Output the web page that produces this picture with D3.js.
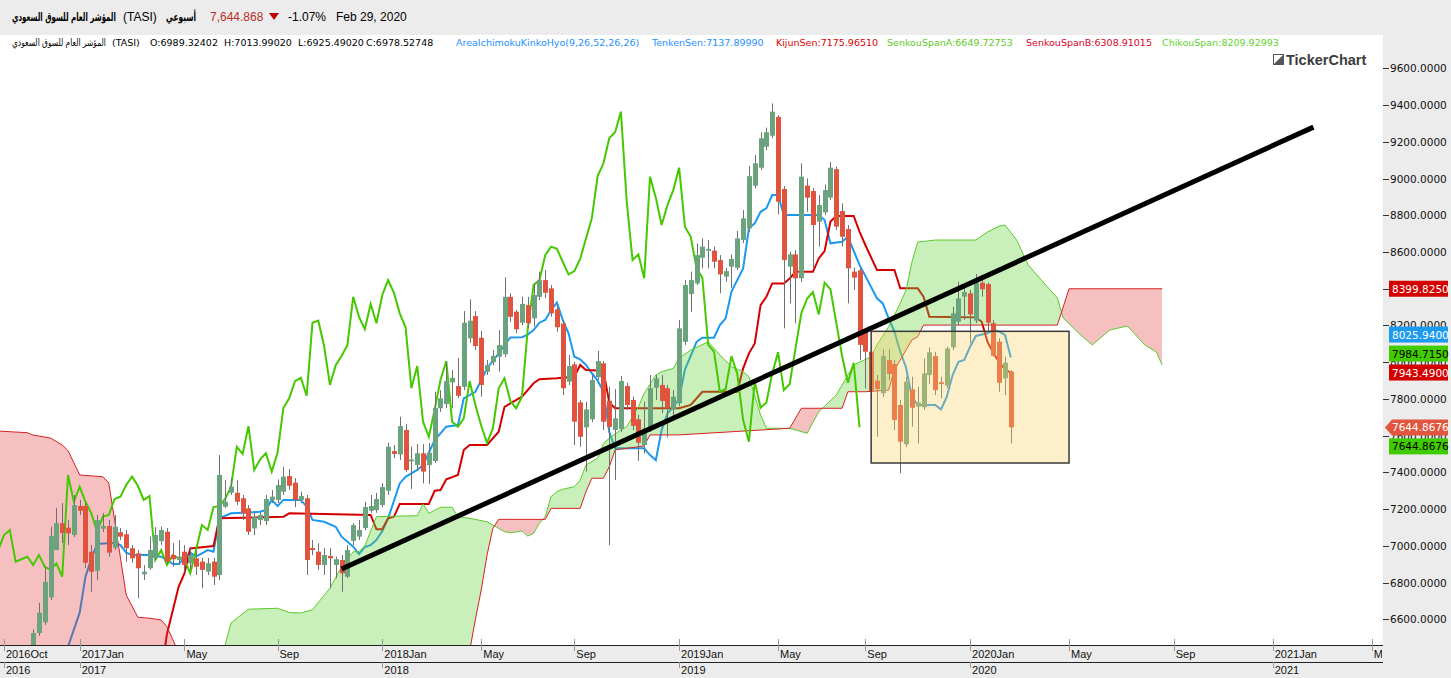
<!DOCTYPE html>
<html><head><meta charset="utf-8">
<script src="https://cdn.jsdelivr.net/npm/d3@7"></script>
<style>body{margin:0;background:#fff;} svg{display:block}</style>
</head><body><svg id="c" width="1451" height="678"></svg>
<script>
// ---------------- DATA ----------------
const opens=[5900,5750,5600,5850,6050,6300,6525,6583,6720,6977,7123,7099,7059,7217,7217,6968,6864,7093,7108,6990,7074,7063,6987,6959,6845,6878,6934,7026,7077,6950,6923,6968,6905,6932,6914,6859,6914,6841,7213,7289,7289,7259,7204,7095,7141,7135,7250,7250,7295,7380,7344,7250,7259,6988,6968,6896,6945,6896,6923,6832,7027,7050,7097,7191,7195,7222,7300,7516,7498,7631,7460,7440,7504,7440,7462,7749,7772,7890,7870,7866,8130,8251,8133,7948,8000,8030,8043,8356,8275,8215,8311,8239,8356,8447,8402,8288,8210,7894,7988,7781,7645,7689,7918,7994,7790,7631,7635,7870,7794,7689,7549,7630,7861,7876,7858,7743,7776,8111,8371,8429,8569,8607,8607,8556,8466,8520,8514,8665,8729,8961,9059,9173,9233,9336,8943,8520,8587,8457,8961,8932,8765,8816,8896,9051,8823,8725,8493,8500,8166,8057,7899,7831,8012,7990,7767,7553,7852,7758,7754,7930,8033,7890,7872,8081,8220,8357,8375,8226,8433,8425,8212,8112,7912,7948];
const highs=[5950,5800,5900,6100,6350,6545,6690,6886,7104,7206,7233,7141,7277,7250,7233,7004,7168,7179,7141,7168,7097,7086,7004,6977,6895,7050,7102,7104,7097,7015,7032,7004,6995,6977,6934,6934,6934,7494,7358,7369,7358,7277,7222,7179,7184,7277,7304,7362,7431,7418,7369,7295,7277,7032,7014,6988,6988,6941,6950,7004,7123,7141,7240,7277,7288,7342,7562,7549,7703,7663,7540,7554,7554,7560,7839,7848,8002,7957,8024,8278,8342,8278,8170,8012,8066,8175,8462,8376,8284,8356,8356,8429,8493,8502,8420,8311,8229,8039,8002,7794,7785,7930,8061,8006,7866,7854,7925,7888,7812,7713,7785,7930,7930,7930,7876,7848,8229,8447,8493,8647,8674,8665,8629,8583,8513,8587,8714,8828,9068,9128,9252,9277,9409,9345,8959,8601,8611,9083,9001,8948,8910,8968,9091,9064,8865,8747,8515,8511,8186,8066,7930,8070,8070,8012,7794,7921,7921,7866,8021,8081,8056,7921,8084,8302,8438,8411,8393,8480,8474,8433,8230,8130,8030,7957];
const lows=[5700,5550,5450,5650,6000,6250,6510,6569,6705,6977,7015,7004,7048,7168,6879,6750,6814,7075,6941,6977,7032,6914,6908,6714,6814,6869,6923,7004,6906,6886,6896,6859,6869,6841,6769,6841,6787,6814,7206,7277,7222,7141,7059,7059,7113,7113,7233,7233,7277,7304,7211,7233,6841,6950,6869,6841,6769,6823,6750,6825,7004,7032,7086,7180,7180,7210,7277,7478,7467,7402,7310,7413,7340,7336,7451,7729,7750,7749,7805,7848,8105,8066,7812,7930,7984,7948,8028,8220,8157,8202,8186,8193,8338,8348,8248,8166,7821,7876,7549,7540,7404,7674,7903,7630,7004,7358,7620,7740,7630,7463,7504,7620,7794,7722,7591,7696,7760,8094,8275,8420,8511,8511,8511,8375,8438,8405,8502,8649,8709,8946,9046,9155,9220,8805,8184,8320,8212,8436,8819,8511,8629,8801,8883,8720,8629,8320,8393,8012,7858,7800,7594,7810,7903,7630,7395,7538,7649,7558,7740,7882,7821,7803,7860,8066,8202,8230,8103,8213,8357,8166,8030,7839,7821,7558];
const closes=[5750,5600,5850,6050,6300,6525,6636,6804,7054,7123,7070,7068,7222,7191,6908,6859,7140,7108,6963,7104,7050,6987,6932,6878,6859,6977,7059,7086,6914,6927,6941,6896,6950,6886,6869,6905,6832,7386,7240,7322,7240,7177,7077,7159,7168,7255,7268,7331,7377,7327,7250,7271,6923,6977,6896,6950,6932,6927,6850,6977,7113,7086,7211,7217,7255,7320,7540,7500,7652,7413,7470,7504,7404,7507,7750,7803,7897,7915,7817,8215,8226,8088,7876,7984,8034,8093,8356,8247,8179,8317,8212,8366,8447,8378,8266,8190,7858,7979,7676,7594,7743,7903,8006,7676,7648,7694,7897,7767,7654,7561,7639,7858,7912,7789,7749,7812,8184,8420,8447,8583,8629,8617,8547,8478,8496,8562,8674,8783,9013,9083,9219,9252,9364,8874,8556,8587,8457,9010,8896,8747,8856,8937,9059,8738,8683,8511,8460,8094,8057,7839,7854,8033,7936,7685,7567,7894,7752,7781,7939,8054,7848,7881,8075,8266,8347,8382,8260,8433,8397,8215,8035,7888,7997,7644.8676];

// Ichimoku lines: [bar index, value]
const tenkanPts=[[10,6350],[11,6451],[13,6636],[14,6832],[15,6930],[16,7010],[19,7017],[20,7004],[21,6963],[22,6950],[25,6950],[27,6941],[28,6923],[29,6901],[30,6901],[32,6963],[33,6941],[35,6977],[36,6968],[37,7150],[39,7177],[42,7181],[44,7186],[45,7195],[46,7250],[47,7217],[48,7250],[51,7250],[52,7213],[53,7141],[55,7131],[57,7104],[58,7050],[60,6995],[61,6955],[62,6994],[63,7004],[64,7032],[65,7080],[66,7150],[68,7340],[69,7376],[71,7413],[72,7440],[74,7576],[76,7649],[78,7658],[79,7803],[81,7839],[83,7967],[85,8048],[86,8093],[87,8135],[89,8136],[90,8150],[91,8175],[92,8215],[93,8230],[94,8284],[95,8324],[96,8230],[97,8157],[98,8030],[99,8016],[100,7985],[101,7940],[102,7900],[103,7840],[104,7620],[105,7531],[110,7531],[111,7494],[112,7467],[113,7630],[114,7721],[115,7757],[116,7800],[117,7960],[119,8111],[120,8133],[122,8133],[123,8202],[124,8239],[125,8384],[127,8511],[128,8729],[129,8756],[130,8819],[131,8838],[132,8910],[133,8910],[134,8801],[140,8801],[141,8774],[142,8647],[144,8656],[145,8683],[147,8530],[148,8470],[150,8348],[151,8320],[152,8239],[153,8166],[154,8057],[155,7970],[156,7810],[157,7767],[160,7767],[161,7743],[162,7812],[163,7930],[164,8002],[165,8012],[166,8084],[167,8143],[169,8157],[170,8175],[171,8166],[172,8148],[173,8025.94]];
const kijunPts=[[27,6300],[28,6520],[30,6777],[31,6850],[32,6986],[36,6999],[37,7150],[48,7158],[49,7177],[63,7168],[64,7090],[65,7090],[66,7150],[67,7159],[68,7228],[73,7228],[74,7300],[75,7304],[76,7362],[78,7386],[79,7522],[80,7549],[83,7549],[85,7621],[86,7757],[87,7776],[89,7812],[91,7885],[92,7907],[95,7912],[98,7921],[99,7985],[100,7957],[103,7954],[104,7780],[105,7749],[116,7749],[118,7767],[120,7839],[126,7839],[127,7966],[128,8048],[129,8102],[130,8311],[131,8356],[132,8429],[134,8429],[135,8456],[136,8492],[139,8492],[140,8565],[141,8605],[142,8765],[143,8796],[146,8796],[147,8711],[148,8638],[150,8502],[153,8502],[154,8402],[157,8402],[158,8356],[159,8248],[167,8244],[168,8220],[169,8110],[170,8050],[171,8000],[172,7960],[173,7943.49]];
const spanAPts=[[-1,6000],[36,6200],[38,6460],[39,6580],[42,6655],[47,6660],[49,6637],[51,6634],[53,6652],[56,6769],[58,6886],[60,6968],[61,6968],[62,7000],[63,7080],[64,7159],[71,7164],[72,7228],[73,7177],[75,7210],[77,7210],[78,7159],[80,7150],[83,7131],[85,7095],[86,7077],[87,7071],[89,7081],[90,7053],[91,7068],[92,7123],[93,7159],[94,7268],[95,7295],[96,7308],[98,7322],[99,7358],[100,7440],[102,7477],[103,7558],[104,7586],[106,7631],[107,7649],[108,7703],[109,7757],[110,7830],[112,7930],[113,7948],[115,7966],[116,8021],[118,8066],[121,8111],[123,8039],[125,7975],[127,7948],[128,7921],[130,7712],[131,7640],[135,7640],[138,7613],[140,7730],[143,7821],[145,7930],[146,7985],[149,8030],[150,8094],[152,8193],[154,8321],[155,8393],[156,8545],[157,8654],[160,8665],[167,8665],[169,8709],[171,8741],[172,8747],[174,8665],[176,8529],[179,8420],[181,8350],[182,8240],[185,8148],[187,8094],[188,8121],[190,8175],[193,8197],[194,8164],[196,8094],[198,8056],[199,7984.715]];
const spanBPts=[[-1,7625],[4,7616],[5,7603],[8,7587],[10,7549],[11,7518],[13,7386],[17,7376],[18,7342],[19,7141],[21,6732],[23,6611],[25,6606],[27,6596],[28,6560],[30,6420],[32,6250],[79,6250],[81,6600],[82,6760],[83,6950],[84,7095],[85,7144],[93,7144],[94,7204],[99,7204],[100,7295],[101,7368],[103,7368],[104,7431],[105,7522],[110,7544],[111,7604],[116,7604],[135,7640],[137,7749],[144,7749],[145,7839],[148,7839],[152,7848],[153,7957],[154,8012],[156,8121],[157,8139],[158,8202],[181,8202],[183,8399.825],[199,8399.825]];
const chikouShift=26;

// axis labels
const priceTicks=[6600,6800,7000,7200,7400,7600,7800,8000,8200,8400,8600,8800,9000,9200,9400,9600];
const monthTickIdx=[0,13,31,47,65,82,98,116,133,148,166,183,201,218,235];
const monthTickLabels=["2016Oct","2017Jan","May","Sep","2018Jan","May","Sep","2019Jan","May","Sep","2020Jan","May","Sep","2021Jan","May"];
const yearTickIdx=[0,13,65,116,166,218];
const yearTickLabels=["2016","2017","2018","2019","2020","2021"];

// drawings
const trendIdx=[58,225], trendVals=[6874,9280];
const boxIdx=[149,183], boxVals=[7451,8168];

// header / legend texts
const titleAr="المؤشر العام للسوق السعودي", titleSym="(TASI)", periodAr="أسبوعي";
const lastPriceTxt="7,644.868", changeTxt="-1.07%", dateTxt="Feb 29, 2020";
const ohlcTxt=["O:6989.32402","H:7013.99020","L:6925.49020","C:6978.52748"];
const legendItems=["AreaIchimokuKinkoHyo(9,26,52,26,26)","TenkenSen:7137.89990","KijunSen:7175.96510","SenkouSpanA:6649.72753","SenkouSpanB:6308.91015","ChikouSpan:8209.92993"];

// ---------------- LAYOUT ----------------
const W=1451,H=678,PR=1383,PT=35,PB=645;
const svg=d3.select("#c");
const x=d3.scaleLinear().domain([-0.69,236.95]).range([0,PR]);
const y=d3.scaleLinear().domain([6460,9689]).range([PB,52]);

const C={up:"#6ba37f",down:"#e0533e",wick:"#707070",tenkan:"#1b98ef",kijun:"#d40000",chikou:"#45c800",spanA:"#5acb2a",spanB:"#d52222",
  cloudG:"rgba(100,210,60,0.35)",cloudR:"rgba(225,45,45,0.30)"};

svg.append("rect").attr("width",W).attr("height",H).attr("fill","#ececec");
svg.append("rect").attr("x",0).attr("y",PT).attr("width",PR).attr("height",PB-PT).attr("fill","#fff");

const defs=svg.append("defs");
defs.append("clipPath").attr("id","plotClip").append("rect").attr("x",0).attr("y",PT).attr("width",PR).attr("height",PB-PT);
defs.append("clipPath").attr("id","axisClip").append("rect").attr("x",0).attr("y",PB).attr("width",PR-1).attr("height",H-PB);

function interp(pts,t){
  if(t<=pts[0][0]) return pts[0][1];
  for(let k=1;k<pts.length;k++){ if(t<=pts[k][0]){const [a,va]=pts[k-1],[b,vb]=pts[k]; return va+(vb-va)*(t-a)/(b-a);} }
  return pts[pts.length-1][1];
}
const plot=svg.append("g").attr("clip-path","url(#plotClip)");
const line=d3.line().x(d=>x(d[0])).y(d=>y(d[1]));

// tenkan & kijun (under the cloud)
plot.append("path").attr("d",line(tenkanPts)).attr("fill","none").attr("stroke",C.tenkan).attr("stroke-width",2);
plot.append("path").attr("d",line(kijunPts)).attr("fill","none").attr("stroke",C.kijun).attr("stroke-width",2);

// cloud
const tSet=new Set();
for(let t=-0.7;t<199;t+=0.05) tSet.add(+t.toFixed(2));
spanAPts.concat(spanBPts).forEach(p=>{ if(p[0]>=-0.7) tSet.add(p[0]); });
const cloudT=Array.from(tSet).sort((a,b)=>a-b);
const A=t=>interp(spanAPts,t), B=t=>interp(spanBPts,t);
defs.append("clipPath").attr("id","aboveB").append("path")
  .attr("d",d3.area().x(t=>x(t)).y0(t=>y(B(t))).y1(0)(cloudT));
defs.append("clipPath").attr("id","belowB").append("path")
  .attr("d",d3.area().x(t=>x(t)).y0(t=>y(B(t))).y1(H)(cloudT));
const between=d3.area().x(t=>x(t)).y0(t=>y(B(t))).y1(t=>y(A(t)))(cloudT);
plot.append("g").attr("clip-path","url(#aboveB)").append("path").attr("d",between).attr("fill",C.cloudG);
plot.append("g").attr("clip-path","url(#belowB)").append("path").attr("d",between).attr("fill",C.cloudR);
plot.append("path").attr("d",line(spanAPts)).attr("fill","none").attr("stroke",C.spanA).attr("stroke-width",1);
plot.append("path").attr("d",line(spanBPts)).attr("fill","none").attr("stroke",C.spanB).attr("stroke-width",1);

// chikou: closes drawn 26 bars back
const chikou=closes.map((c,i)=>[i-chikouShift,c]).filter(d=>d[0]>=-1);
plot.append("path").attr("d",line(chikou)).attr("fill","none").attr("stroke",C.chikou).attr("stroke-width",2);

// candles
const bars=closes.map((c,i)=>({i,o:opens[i],h:highs[i],l:lows[i],c}));
const cg=plot.append("g");
cg.selectAll("line.w").data(bars).join("line").attr("class","w")
  .attr("x1",d=>Math.round(x(d.i))+0.5).attr("x2",d=>Math.round(x(d.i))+0.5)
  .attr("y1",d=>y(d.h)).attr("y2",d=>y(d.l)).attr("stroke",C.wick).attr("stroke-width",1);
cg.selectAll("rect.b").data(bars).join("rect").attr("class","b")
  .attr("x",d=>Math.round(x(d.i))-2).attr("width",5)
  .attr("y",d=>y(Math.max(d.o,d.c))).attr("height",d=>Math.max(1,Math.abs(y(d.o)-y(d.c))))
  .attr("fill",d=>d.c>=d.o?C.up:C.down);

// box
plot.append("rect").attr("x",x(boxIdx[0])).attr("y",y(boxVals[1]))
  .attr("width",x(boxIdx[1])-x(boxIdx[0])).attr("height",y(boxVals[0])-y(boxVals[1]))
  .attr("fill","rgba(250,210,100,0.35)").attr("stroke","#3a3a3a").attr("stroke-width",1.5);
// trend line
plot.append("line").attr("x1",x(trendIdx[0])).attr("y1",y(trendVals[0])).attr("x2",x(trendIdx[1])).attr("y2",y(trendVals[1]))
  .attr("stroke","#000").attr("stroke-width",5);

// ---------------- RIGHT AXIS ----------------
const ax=svg.append("g");
ax.selectAll("line.t").data(priceTicks).join("line").attr("class","t")
  .attr("x1",PR).attr("x2",PR+6).attr("y1",d=>Math.round(y(d))+0.5).attr("y2",d=>Math.round(y(d))+0.5).attr("stroke","#333");
ax.selectAll("text.t").data(priceTicks).join("text").attr("class","t")
  .attr("x",PR+7).attr("y",d=>y(d)+4).text(d3.format(".4f"))
  .attr("font-family","DejaVu Sans").attr("font-size",10.5).attr("fill","#111");

// value tags with collision avoidance
const tags=[
  {v:closes[closes.length-1],fill:"#e2553f",tc:"#fff",arrow:true},
  {v:kijunPts[kijunPts.length-1][1],fill:"#d40000",tc:"#fff"},
  {v:spanAPts[spanAPts.length-1][1],fill:"#3fcc00",tc:"#000"},
  {v:tenkanPts[tenkanPts.length-1][1],fill:"#1b9af0",tc:"#fff"},
  {v:spanBPts[spanBPts.length-1][1],fill:"#d40000",tc:"#fff"},
  {v:closes[closes.length-1],fill:"#3fcc00",tc:"#000"}
];
const GAP=19, placed=[];
tags.forEach(tg=>{
  const y0=y(tg.v);
  const cands=[y0];
  placed.forEach(p=>{cands.push(p.py-GAP);cands.push(p.py+GAP);});
  const ok=cands.filter(c=>placed.every(p=>Math.abs(p.py-c)>=GAP-0.01));
  ok.sort((a,b)=>{const da=Math.round(Math.abs(a-y0)*100),db=Math.round(Math.abs(b-y0)*100);return da!==db?da-db:b-a;});
  tg.py=ok[0]; placed.push(tg);
});
const tg=svg.append("g");
tags.forEach(t=>{
  const yy=t.py;
  if(t.arrow){
    tg.append("path").attr("d",`M${PR+2},${yy} L${PR+9},${yy-8} L${PR+65},${yy-8} L${PR+65},${yy+8} L${PR+9},${yy+8} Z`).attr("fill",t.fill);
  } else {
    tg.append("rect").attr("x",PR+6).attr("y",yy-8).attr("width",59).attr("height",16).attr("fill",t.fill);
  }
  tg.append("text").attr("x",PR+9).attr("y",yy+4).text(d3.format(".4f")(t.v))
    .attr("font-family","DejaVu Sans").attr("font-size",10.5).attr("fill",t.tc);
});

// ---------------- BOTTOM AXIS ----------------
const bx=svg.append("g");
bx.append("line").attr("x1",0).attr("x2",PR).attr("y1",PB+0.5).attr("y2",PB+0.5).attr("stroke","#222");
bx.append("line").attr("x1",0).attr("x2",PR).attr("y1",662.5).attr("y2",662.5).attr("stroke","#222");
const bxc=bx.append("g").attr("clip-path","url(#axisClip)");
svg.append("g").selectAll("line").data(monthTickIdx).join("line")
  .attr("x1",d=>Math.round(x(d))+0.5).attr("x2",d=>Math.round(x(d))+0.5).attr("y1",PB-6).attr("y2",PB).attr("stroke","#999");
bxc.selectAll("line.m").data(monthTickIdx).join("line").attr("class","m")
  .attr("x1",d=>Math.round(x(d))+0.5).attr("x2",d=>Math.round(x(d))+0.5).attr("y1",PB).attr("y2",PB+6).attr("stroke","#999");
bxc.selectAll("text.m").data(monthTickIdx).join("text").attr("class","m")
  .attr("x",d=>x(d)+2).attr("y",658).text((d,k)=>monthTickLabels[k])
  .attr("font-family","Liberation Sans").attr("font-size",11).attr("fill","#111");
bxc.selectAll("line.y").data(yearTickIdx).join("line").attr("class","y")
  .attr("x1",d=>Math.round(x(d))+0.5).attr("x2",d=>Math.round(x(d))+0.5).attr("y1",662).attr("y2",668).attr("stroke","#999");
bxc.selectAll("text.y").data(yearTickIdx).join("text").attr("class","y")
  .attr("x",d=>x(d)+2).attr("y",674).text((d,k)=>yearTickLabels[k])
  .attr("font-family","Liberation Sans").attr("font-size",11).attr("fill","#111");

// ---------------- HEADER & LEGEND ----------------
// Arabic text squeezed horizontally with a transform so its box matches the original width
function fitText(parent,tx,ty,target,txt,attrs){
  const g=parent.append("g");
  const t=g.append("text").attr("x",0).attr("y",0).text(txt);
  Object.entries(attrs).forEach(([k,v])=>t.attr(k,v));
  const w=t.node().getComputedTextLength()||target;
  g.attr("transform",`translate(${tx},${ty}) scale(${target/w},1)`);
  return t;
}
const hd=svg.append("g").attr("font-size",12).attr("font-family","Liberation Sans");
fitText(hd,12,21,104,titleAr,{"font-family":"DejaVu Sans","font-weight":"bold","font-size":11.5});
hd.append("text").attr("x",123).attr("y",21).text(titleSym);
fitText(hd,166,21,30,periodAr,{"font-family":"DejaVu Sans","font-weight":"bold","font-size":11.5});
hd.append("text").attr("x",210).attr("y",21).attr("fill","#b8312a").text(lastPriceTxt);
hd.append("path").attr("d","M269,13 L279,13 L274,20 Z").attr("fill","#c00000");
hd.append("text").attr("x",288).attr("y",21).text(changeTxt);
hd.append("text").attr("x",336).attr("y",21).text(dateTxt);

const lg=svg.append("g").attr("font-family","DejaVu Sans").attr("font-size",9.5);
fitText(lg,12,46,94,titleAr,{"font-family":"DejaVu Sans","font-size":10});
lg.append("text").attr("x",112).attr("y",46).text(titleSym);
const ohlcX=[150,224,298,366];
ohlcTxt.forEach((t,k)=>lg.append("text").attr("x",ohlcX[k]).attr("y",46).text(t));
const legX=[456,652,776,887,1026,1162], legC=["#1e90ff","#1e90ff","#e00000","#62cc1c","#e00028","#62d42a"];
legendItems.forEach((t,k)=>lg.append("text").attr("x",legX[k]).attr("y",46).attr("fill",legC[k]).text(t));

// logo
const lo=svg.append("g");
lo.append("rect").attr("x",1273.5).attr("y",54.5).attr("width",10).attr("height",10).attr("fill","#fff").attr("stroke","#555");
lo.append("path").attr("d","M1274,64 L1283,55 L1283,64 Z").attr("fill","#555");
lo.append("text").attr("x",1286).attr("y",64.5).text("TickerChart").attr("font-family","Liberation Sans").attr("font-weight","bold").attr("font-size",14.5).attr("fill","#3c3c3c");
</script></body></html>
